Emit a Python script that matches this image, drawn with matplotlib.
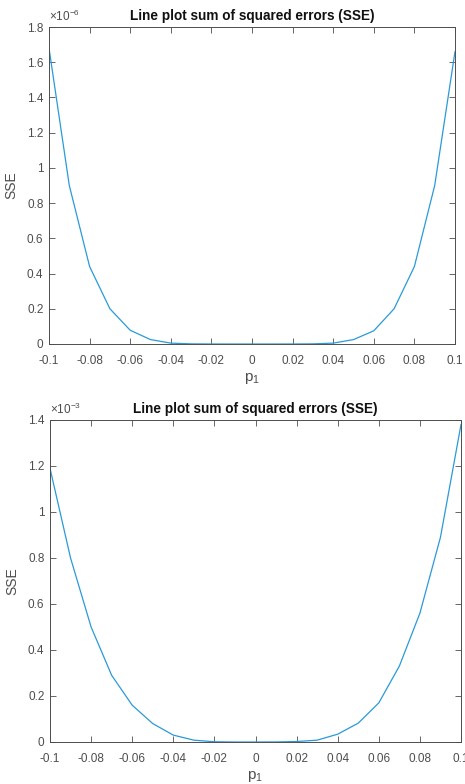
import numpy as np
import matplotlib.pyplot as plt

plt.rcParams['font.family'] = ['Liberation Sans', 'DejaVu Sans']

p1 = np.round(np.arange(-0.1, 0.1001, 0.01), 2)

# SSE values, top in units of 1e-6, bottom in units of 1e-3
sse_top = [1.68, 0.90, 0.44, 0.20, 0.078, 0.025, 0.005, 0.0008, 0.0001, 0.0, 0.0,
           0.0, 0.0001, 0.0008, 0.005, 0.025, 0.075, 0.20, 0.44, 0.90, 1.66]
sse_bot = [1.19, 0.80, 0.50, 0.29, 0.16, 0.08, 0.03, 0.008, 0.001, 0.0, 0.0,
           0.0003, 0.002, 0.008, 0.034, 0.082, 0.17, 0.33, 0.56, 0.89, 1.38]

xticks = np.round(np.arange(-0.1, 0.1001, 0.02), 2)
yticks_top = np.round(np.arange(0, 1.81, 0.2), 1)
yticks_bot = np.round(np.arange(0, 1.41, 0.2), 1)

line_col = '#2a9ad8'
axis_col = '#4d4d4d'

fig = plt.figure(figsize=(4.65, 7.84), dpi=100)
W, H = 465, 784
boxes = [(49, 27, 455, 344), (50, 420, 461, 742)]
panels = [(sse_top, yticks_top, 1.8, '-6'), (sse_bot, yticks_bot, 1.4, '-3')]

for (l, t, r, b), (sse, yt, ymax, expo) in zip(boxes, panels):
    ax = fig.add_axes([l / W, 1 - b / H, (r - l) / W, (b - t) / H])
    ax.plot(p1, sse, color=line_col, lw=0.9)
    ax.set_xlim(-0.1, 0.1)
    ax.set_ylim(0, ymax)
    ax.set_xticks(xticks)
    ax.set_xticklabels(['{:g}'.format(v) for v in xticks])
    ax.set_yticks(yt)
    ax.set_yticklabels(['{:g}'.format(v) for v in yt])
    ax.tick_params(direction='in', top=True, right=True, length=4, width=0.6,
                   labelsize=8.5, colors=axis_col)
    ax.tick_params(axis='x', pad=8)
    ax.tick_params(axis='y', pad=4)
    for s in ax.spines.values():
        s.set_color(axis_col)
        s.set_linewidth(0.7)
    ax.set_title('Line plot sum of squared errors (SSE)', fontsize=9.8,
                 fontweight='bold', color='#111111', pad=5)
    ax.set_xlabel('p$_\\mathregular{1}$', fontsize=11, color=axis_col, labelpad=3)
    ax.set_ylabel('SSE', fontsize=10, color=axis_col, labelpad=6)
    ax.text(0.0, 1.008, '$\\mathregular{\\times10^{' + expo + '}}$', transform=ax.transAxes,
            fontsize=8.5, color=axis_col, ha='left', va='bottom')

fig.savefig('out.png', dpi=100)
